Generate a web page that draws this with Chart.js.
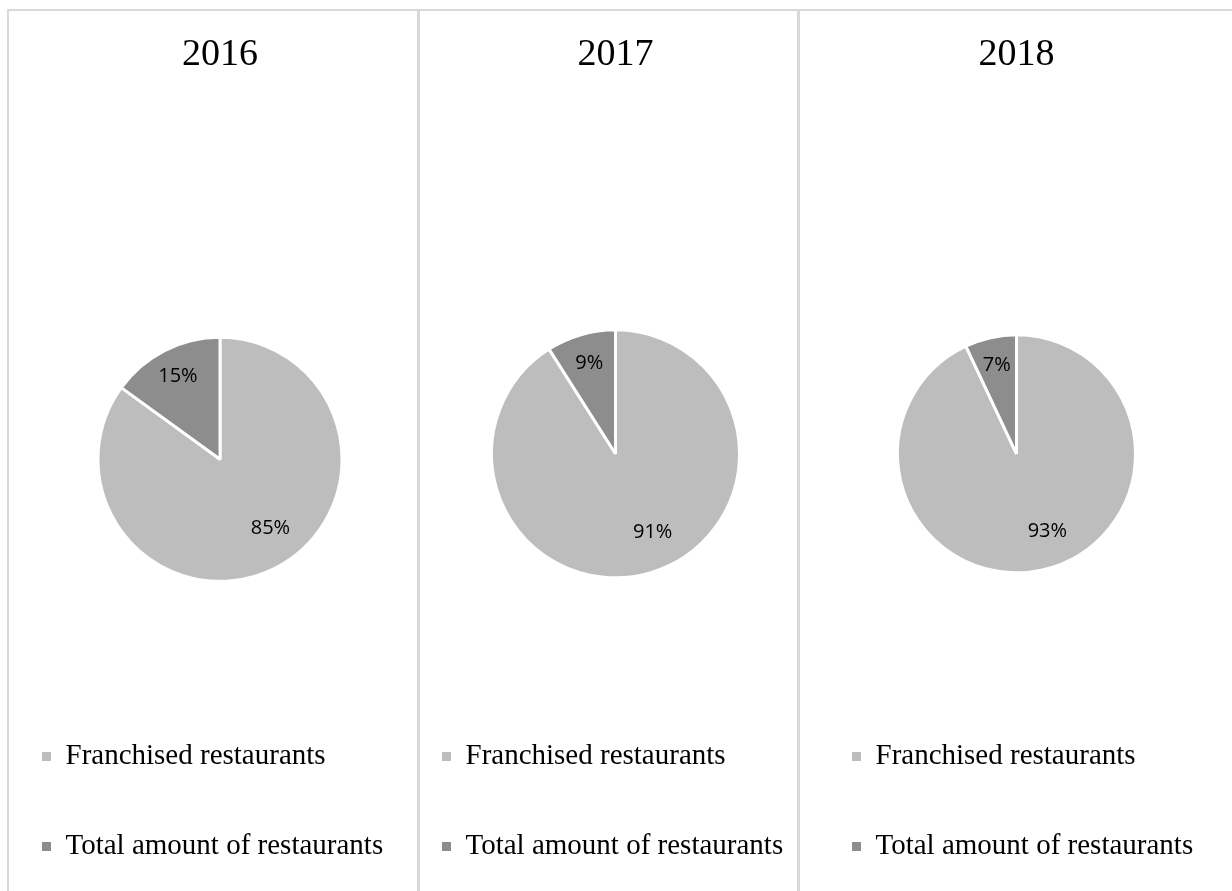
<!DOCTYPE html>
<html>
<head>
<meta charset="utf-8">
<script src="https://cdn.jsdelivr.net/npm/chart.js@4"></script>
<style>
  html, body { margin: 0; padding: 0; background: #fff; }
  body { width: 1232px; height: 891px; position: relative; overflow: hidden; }
  .line { position: absolute; background: #d9d9d9; }
  .panel { position: absolute; top: 10px; height: 881px; }
</style>
</head>
<body>
<div class="line" style="left:8px; top:9px; width:1224px; height:2px;"></div>
<div class="line" style="left:7px; top:9px; width:2px; height:882px;"></div>
<div class="line" style="left:417px; top:10px; width:3px; height:881px;"></div>
<div class="line" style="left:797px; top:10px; width:3px; height:881px;"></div>

<div class="panel" id="p0"><canvas id="c0"></canvas></div>
<div class="panel" id="p1"><canvas id="c1"></canvas></div>
<div class="panel" id="p2"><canvas id="c2"></canvas></div>

<script>
// values
const years = ['2016', '2017', '2018'];
const categories = ['Franchised restaurants', 'Total amount of restaurants'];
const franchisedShare = [85, 91, 93];
const totalShare = [15, 9, 7];

const sliceColors = ['#bdbdbd', '#8d8d8d'];

// where each panel sits on the page
const panels = [
    { left: -19, width: 478, radius: 122, titleGap: 160 },
    { left: 381, width: 469, radius: 124, titleGap: 149 },
    { left: 791, width: 451, radius: 119, titleGap: 149 }
];

// percent labels inside the slices
const sliceLabels = {
    id: 'sliceLabels',
    afterDatasetsDraw(chart) {
        const ctx = chart.ctx;
        const meta = chart.getDatasetMeta(0);
        const values = chart.data.datasets[0].data;
        ctx.save();
        ctx.font = '20px "Open Sans", sans-serif';
        ctx.fillStyle = '#000';
        ctx.textAlign = 'center';
        ctx.textBaseline = 'middle';
        meta.data.forEach((arc, i) => {
            const p = arc.getProps(['x', 'y', 'startAngle', 'endAngle', 'outerRadius'], true);
            // big slice labels sit a little nearer the bottom, like the original
            const mid = (p.startAngle + p.endAngle) / 2 - (values[i] > 50 ? 0.16 : 0);
            const r = p.outerRadius * (values[i] > 50 ? 0.7 : 0.76);
            ctx.fillText(values[i] + '%', p.x + Math.cos(mid) * r, p.y + Math.sin(mid) * r);
        });
        ctx.restore();
    }
};

years.forEach((year, i) => {
    const box = document.getElementById('p' + i);
    box.style.left = panels[i].left + 'px';
    box.style.width = panels[i].width + 'px';

    new Chart(document.getElementById('c' + i), {
        type: 'pie',
        data: {
            labels: categories,
            datasets: [{
                data: [franchisedShare[i], totalShare[i]],
                backgroundColor: sliceColors,
                borderColor: '#ffffff',
                borderWidth: 3,
                radius: panels[i].radius
            }]
        },
        options: {
            responsive: true,
            maintainAspectRatio: false,
            animation: false,
            layout: { padding: { top: 0, bottom: 20, left: 0, right: 0 } },
            plugins: {
                title: {
                    display: true,
                    text: year,
                    color: '#000',
                    font: { family: '"Liberation Serif", "Times New Roman", serif', size: 38, weight: 'normal' },
                    padding: { top: 22, bottom: panels[i].titleGap }
                },
                legend: {
                    position: 'bottom',
                    align: 'start',
                    labels: {
                        color: '#000',
                        boxWidth: 9,
                        boxHeight: 9,
                        padding: 61,
                        font: { family: '"Liberation Serif", "Times New Roman", serif', size: 29 },
                        generateLabels(chart) {
                            return categories.map((name, k) => ({
                                text: name,
                                fillStyle: sliceColors[k],
                                strokeStyle: sliceColors[k],
                                lineWidth: 0,
                                fontColor: '#000',
                                index: k
                            }));
                        }
                    }
                },
                tooltip: { enabled: false }
            }
        },
        plugins: [sliceLabels]
    });
});
</script>
</body>
</html>
